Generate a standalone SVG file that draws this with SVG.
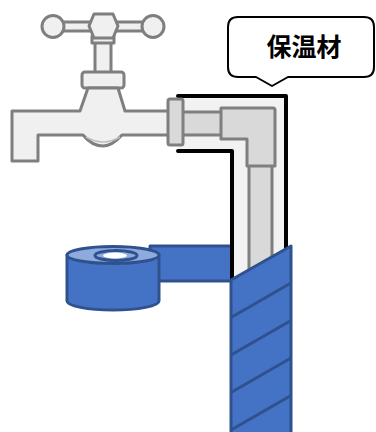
<svg xmlns="http://www.w3.org/2000/svg" width="376" height="432" viewBox="0 0 376 432">
  <style>
    .metal { fill: #f0f0f0; stroke: #7f7f7f; stroke-width: 3; stroke-linejoin: round; }
    .fitting { fill: #d9d9d9; stroke: #7f7f7f; stroke-width: 3; stroke-linejoin: round; }
    .tape { fill: #4472c4; stroke: #2f528f; stroke-width: 3; stroke-linejoin: round; }
    .band { stroke: #2f528f; stroke-width: 3; fill: none; }
    .label { font-family: "Noto Sans CJK JP", "Noto Sans CJK SC", sans-serif; font-weight: bold; font-size: 25px; fill: #000; }
  </style>
  <rect width="376" height="432" fill="#ffffff"/>

  <!-- tap -->
  <g id="faucet">
    <!-- handle -->
    <rect class="metal" x="53" y="22" width="100" height="9"/>
    <circle class="metal" cx="53" cy="26.5" r="11"/>
    <circle class="metal" cx="153" cy="26.5" r="11"/>
    <rect class="metal" x="95" y="42" width="16" height="31"/>
    <rect class="metal" x="92" y="36" width="22" height="7"/>
    <polygon class="metal" points="94,14 113,14 118,26 113,38 94,38 89,26"/>
    <!-- bonnet -->
    <rect class="metal" x="82" y="72" width="42" height="16" rx="3"/>
    <!-- body and spout -->
    <path class="metal" d="M88,88 H118 L125,111 H170 V135 H122 Q112,146 103,146 Q92,146 83,135 H38 V161 H12 V111 H80 Z"/>
    <path d="M86,137 Q103,147 120,137" fill="none" stroke="#bfbfbf" stroke-width="1.5"/>
  </g>

  <!-- tape strip running to the pipe -->
  <g id="tape-strip">
    <rect class="tape" x="150" y="246" width="84" height="35"/>
  </g>

  <!-- tape roll -->
  <g id="tape-roll">
    <path class="tape" d="M67,255 V301 A46,9 0 0 0 159,301 V255 Z"/>
    <ellipse cx="113" cy="255" rx="46" ry="8.5" fill="#8faadc" stroke="#2f528f" stroke-width="3"/>
    <ellipse cx="116" cy="255.5" rx="21" ry="5" fill="#8faadc" stroke="#2f528f" stroke-width="3"/>
    <ellipse cx="115" cy="255.5" rx="12" ry="3" fill="#ffffff"/>
  </g>

  <!-- pipe insulation -->
  <g id="insulation">
    <path d="M178,96 H286 V300 H232 V151 H178 Z" fill="#f2f2f2"/>
    <path d="M178,96 H286 V300 M178,151 H232 V300" fill="none" stroke="#000000" stroke-width="4" stroke-linejoin="round" stroke-linecap="round"/>
  </g>

  <!-- pipe and elbow -->
  <g id="pipe">
    <rect class="fitting" x="180" y="112" width="44" height="23"/>
    <rect class="fitting" x="249" y="160" width="23" height="140"/>
    <path class="fitting" d="M221,108 H273 Q275,108 275,110 V166 H247 V139 H221 Z"/>
  </g>

  <!-- union nut -->
  <g id="flange">
    <rect class="fitting" x="168" y="99" width="15" height="46" rx="2"/>
  </g>

  <!-- tape wound round the pipe -->
  <g id="tape-wrap">
    <polygon class="tape" points="231,280 291,246 291,434 231,434"/>
    <line class="band" x1="231" y1="317.5" x2="291" y2="283"/>
    <line class="band" x1="231" y1="355" x2="291" y2="320.5"/>
    <line class="band" x1="231" y1="392.5" x2="291" y2="358"/>
    <line class="band" x1="231" y1="430" x2="291" y2="395.5"/>
  </g>

  <!-- callout -->
  <g id="callout">
    <path d="M238,17 H364 Q374,17 374,27 V67 Q374,77 364,77 H288 L272,86 L256,77 H238 Q228,77 228,67 V27 Q228,17 238,17 Z" fill="#ffffff" stroke="#000000" stroke-width="2" stroke-linejoin="round"/>
    <text class="label" x="304" y="45" text-anchor="middle" dominant-baseline="central">保温材</text>
  </g>
</svg>
